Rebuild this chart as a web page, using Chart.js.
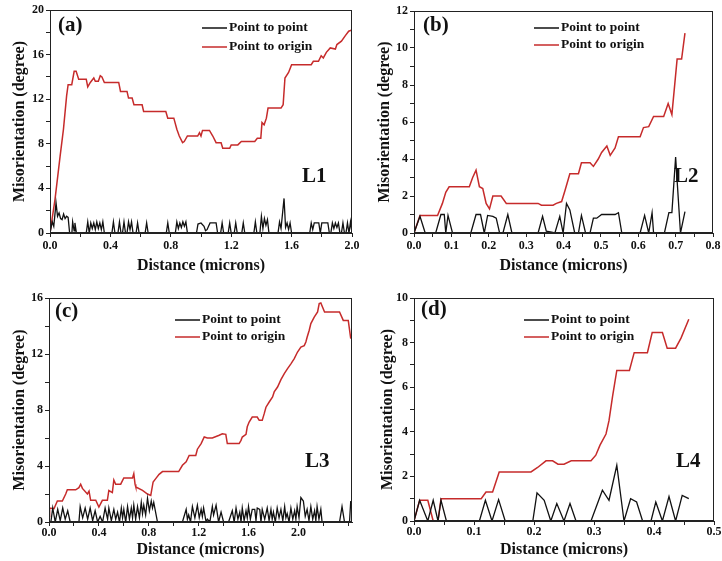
<!DOCTYPE html>
<html>
<head>
<meta charset="utf-8">
<script src="https://cdn.jsdelivr.net/npm/chart.js@4"></script>
<style>
  html, body { margin: 0; padding: 0; background: #fff; overflow: hidden; }
  body { width: 722px; height: 561px; position: relative; }
  canvas { position: absolute; }
</style>
</head>
<body>
<canvas id="chartA" width="361" height="280" style="left:0;top:0"></canvas>
<canvas id="chartB" width="361" height="280" style="left:361px;top:0"></canvas>
<canvas id="chartC" width="361" height="281" style="left:0;top:280px"></canvas>
<canvas id="chartD" width="361" height="281" style="left:361px;top:280px"></canvas>
<script>
// misorientation profiles, [distance (microns), degree]
const aPoint = [[0,0],[0.015,1.0],[0.025,0.6],[0.04,2.7],[0.05,1.5],[0.06,1.8],[0.07,1.3],[0.08,1.2],[0.09,1.7],[0.1,1.3],[0.11,1.5],[0.12,1.4],[0.13,0],[0.145,0],[0.15,1.0],[0.16,0.2],[0.165,0.9],[0.175,0],[0.24,0],[0.25,1.0],[0.26,0],[0.27,0.9],[0.28,0.4],[0.29,0.9],[0.3,0.3],[0.31,1.0],[0.32,0.4],[0.33,0.9],[0.34,0.3],[0.35,1.0],[0.36,0],[0.41,0],[0.42,1.0],[0.43,0],[0.45,0],[0.46,1.0],[0.47,0],[0.48,0],[0.49,1.0],[0.5,0],[0.51,0],[0.52,1.0],[0.53,0.3],[0.54,1.0],[0.55,0],[0.57,0],[0.58,0.9],[0.59,0],[0.63,0],[0.64,0.9],[0.65,0],[0.77,0],[0.78,0.9],[0.79,0],[0.83,0],[0.84,1.0],[0.85,0.4],[0.86,0.9],[0.87,0.5],[0.88,1.0],[0.89,0.6],[0.9,1.0],[0.91,0],[0.97,0],[0.98,0.8],[1.0,0.9],[1.02,0.6],[1.03,0.2],[1.04,0.3],[1.05,0.6],[1.06,0.9],[1.1,0.9],[1.11,0],[1.13,0],[1.14,0.9],[1.15,0],[1.18,0],[1.19,0.9],[1.2,0],[1.22,0],[1.23,0.9],[1.24,0],[1.27,0],[1.28,0.9],[1.29,0],[1.35,0],[1.36,1.0],[1.37,0],[1.39,0],[1.4,1.5],[1.41,0.4],[1.42,1.3],[1.43,0.7],[1.44,1.2],[1.45,0],[1.51,0],[1.52,1.0],[1.53,0.4],[1.55,3.1],[1.56,0.5],[1.57,0.9],[1.58,0.3],[1.59,0.9],[1.6,0],[1.72,0],[1.73,0.9],[1.74,0.3],[1.75,0.9],[1.78,0.9],[1.79,0],[1.8,0.9],[1.84,0.9],[1.85,0],[1.86,0],[1.87,0.9],[1.88,0.4],[1.89,0.9],[1.9,0.5],[1.91,0.9],[1.92,0],[1.93,0],[1.94,0.9],[1.95,0],[1.96,0],[1.97,0.9],[1.98,0],[1.99,1.0],[2.0,0]];
const aOrigin = [[0,0],[0.033,3.0],[0.067,6.9],[0.089,9.3],[0.11,12.3],[0.12,13.3],[0.144,13.3],[0.16,14.5],[0.173,14.5],[0.19,13.8],[0.24,13.8],[0.25,13.1],[0.267,13.5],[0.29,13.9],[0.3,13.6],[0.32,13.6],[0.333,14.1],[0.344,14.0],[0.36,13.5],[0.455,13.5],[0.467,12.7],[0.51,12.7],[0.52,12.1],[0.544,12.1],[0.556,11.5],[0.61,11.5],[0.62,10.9],[0.767,10.9],[0.78,10.3],[0.82,10.3],[0.84,9.3],[0.856,8.7],[0.878,8.1],[0.889,8.2],[0.91,8.7],[0.978,8.7],[0.99,9.0],[1.0,8.7],[1.01,9.2],[1.056,9.2],[1.078,8.7],[1.1,8.1],[1.133,8.1],[1.144,7.6],[1.19,7.6],[1.2,7.9],[1.244,7.9],[1.267,8.2],[1.356,8.2],[1.373,8.5],[1.396,8.5],[1.404,9.9],[1.418,9.7],[1.433,10.3],[1.444,11.2],[1.53,11.2],[1.544,11.5],[1.556,13.9],[1.58,14.4],[1.6,15.1],[1.73,15.1],[1.744,15.4],[1.778,15.4],[1.796,15.9],[1.81,15.7],[1.83,16.2],[1.856,16.6],[1.89,16.5],[1.9,16.9],[1.93,17.2],[1.956,17.7],[1.978,18.1],[2.0,18.2]];

const bPoint = [[0,0],[0.016,0.9],[0.03,0],[0.058,0],[0.072,1.0],[0.081,1.0],[0.085,0],[0.091,0.95],[0.103,0],[0.152,0],[0.166,1.0],[0.178,1.0],[0.188,0],[0.197,0.95],[0.211,0.9],[0.22,0.8],[0.229,0],[0.238,0],[0.251,1.0],[0.262,0],[0.332,0],[0.344,0.9],[0.354,0.1],[0.368,0.05],[0.377,0],[0.39,0.9],[0.399,0],[0.408,1.6],[0.417,1.25],[0.43,0],[0.44,0],[0.448,0.95],[0.459,0],[0.471,0],[0.48,0.8],[0.489,0.8],[0.502,1.0],[0.538,1.0],[0.547,1.1],[0.556,0],[0.605,0],[0.617,0.95],[0.628,0],[0.637,1.1],[0.641,0],[0.67,0],[0.682,1.1],[0.69,1.1],[0.7,4.1],[0.713,0],[0.725,1.15]];
const bOrigin = [[0,0],[0.016,0.94],[0.063,0.94],[0.076,1.6],[0.085,2.2],[0.094,2.5],[0.148,2.5],[0.157,3.0],[0.166,3.4],[0.175,2.5],[0.184,2.4],[0.193,1.6],[0.202,1.3],[0.211,2.0],[0.233,2.0],[0.247,1.6],[0.332,1.6],[0.341,1.5],[0.372,1.5],[0.381,1.6],[0.395,1.7],[0.404,2.3],[0.417,3.2],[0.44,3.2],[0.448,3.8],[0.471,3.8],[0.48,3.6],[0.493,4.0],[0.502,4.35],[0.516,4.7],[0.525,4.2],[0.538,4.6],[0.547,5.2],[0.605,5.2],[0.614,5.7],[0.628,5.75],[0.641,6.3],[0.668,6.3],[0.68,7.0],[0.69,6.4],[0.704,9.4],[0.716,9.4],[0.725,10.8]];

const cPoint = [[0,0],[0.015,0],[0.03,1.0],[0.05,0],[0.07,0.9],[0.09,0.1],[0.11,1.0],[0.13,0.2],[0.15,0.8],[0.17,0],[0.24,0],[0.25,1.1],[0.27,0.3],[0.29,1.0],[0.31,0.2],[0.33,1.0],[0.35,0.1],[0.37,0.8],[0.39,0],[0.41,0.4],[0.43,0],[0.45,1.0],[0.47,0.2],[0.48,1.0],[0.5,0.1],[0.52,0.9],[0.535,0.2],[0.55,0.7],[0.565,0],[0.58,1.0],[0.59,0.3],[0.6,0.9],[0.615,0],[0.63,1.1],[0.645,0.2],[0.66,1.0],[0.67,0.3],[0.68,1.2],[0.695,0.2],[0.71,1.1],[0.725,0.3],[0.74,1.4],[0.75,0.6],[0.76,1.2],[0.775,0.5],[0.79,1.7],[0.805,0.8],[0.82,1.5],[0.83,1.0],[0.84,1.4],[0.87,0],[1.07,0],[1.1,0.9],[1.11,0.2],[1.12,0.5],[1.135,0],[1.15,1.1],[1.17,0.3],[1.19,1.2],[1.205,0.3],[1.22,0.9],[1.23,0.4],[1.24,1.0],[1.26,0],[1.27,0.2],[1.29,0],[1.31,1.1],[1.32,0.5],[1.34,1.2],[1.36,0],[1.38,0.7],[1.4,0],[1.44,0],[1.47,0.8],[1.485,0],[1.5,1.0],[1.515,0.2],[1.53,0.7],[1.54,0],[1.55,1.0],[1.565,0.1],[1.58,0.8],[1.59,0.3],[1.6,1.1],[1.615,0.2],[1.63,0.9],[1.65,0.9],[1.66,0.1],[1.67,1.0],[1.69,0.9],[1.7,0],[1.71,0.9],[1.73,0.2],[1.75,1.0],[1.765,0.1],[1.78,0.9],[1.79,0.2],[1.8,0.7],[1.815,0],[1.83,1.0],[1.845,0.3],[1.86,0.9],[1.875,0.1],[1.89,1.1],[1.9,0.3],[1.91,0.6],[1.925,0],[1.94,1.0],[1.955,0.2],[1.97,0.8],[1.98,0.2],[1.99,1.1],[2.005,0.3],[2.02,1.75],[2.04,1.5],[2.055,0.4],[2.07,0.9],[2.085,0.1],[2.1,1.1],[2.115,0.2],[2.13,0.8],[2.14,0.1],[2.15,1.1],[2.165,0.2],[2.18,0.9],[2.19,0],[2.33,0],[2.35,1.1],[2.37,0],[2.41,0],[2.42,1.5]];
const cOrigin = [[0,0.4],[0.005,1.0],[0.04,0.95],[0.067,1.5],[0.107,1.5],[0.134,2.0],[0.147,2.3],[0.214,2.3],[0.24,2.45],[0.254,2.7],[0.268,2.4],[0.308,2.0],[0.321,2.2],[0.334,1.55],[0.375,1.55],[0.4,1.07],[0.428,1.55],[0.468,1.55],[0.48,2.25],[0.508,2.1],[0.52,3.0],[0.535,2.7],[0.575,2.7],[0.6,3.15],[0.67,3.15],[0.68,3.45],[0.69,2.7],[0.696,2.5],[0.75,2.26],[0.79,2.0],[0.816,1.9],[0.835,2.86],[0.856,3.1],[0.883,3.4],[0.91,3.6],[1.04,3.6],[1.07,4.05],[1.1,4.3],[1.124,4.75],[1.177,4.75],[1.19,5.2],[1.22,5.6],[1.245,6.07],[1.27,6.0],[1.31,6.0],[1.365,6.2],[1.39,6.3],[1.418,6.26],[1.43,5.6],[1.525,5.6],[1.54,5.83],[1.55,6.07],[1.58,6.26],[1.59,6.8],[1.605,7.14],[1.63,7.5],[1.67,7.5],[1.686,7.26],[1.71,7.26],[1.726,7.74],[1.74,8.2],[1.766,8.57],[1.793,8.93],[1.806,9.29],[1.833,9.64],[1.86,10.17],[1.887,10.6],[1.913,10.95],[1.94,11.3],[1.967,11.67],[1.993,12.14],[2.02,12.5],[2.047,12.6],[2.06,12.86],[2.07,13.2],[2.087,13.7],[2.1,14.17],[2.127,14.64],[2.154,15.0],[2.167,15.6],[2.18,15.64],[2.21,15.0],[2.33,15.0],[2.36,14.4],[2.4,14.4],[2.42,13.1]];

const dPoint = [[0,0],[0.0094,0.93],[0.023,0],[0.032,0.93],[0.04,0],[0.045,0.93],[0.054,0],[0.109,0],[0.119,0.93],[0.13,0],[0.141,0.96],[0.152,0],[0.198,0],[0.205,1.26],[0.217,0.93],[0.228,0],[0.238,0.78],[0.25,0],[0.26,0.78],[0.27,0],[0.295,0],[0.314,1.38],[0.325,0.93],[0.338,2.5],[0.35,0],[0.361,1.0],[0.371,0.85],[0.381,0],[0.395,0],[0.403,0.85],[0.414,0],[0.425,1.1],[0.436,0],[0.447,1.15],[0.458,1.0]];
const dOrigin = [[0,0],[0.0094,0.93],[0.023,0.93],[0.032,0],[0.04,0],[0.045,1.0],[0.112,1.0],[0.12,1.3],[0.131,1.3],[0.142,2.2],[0.195,2.2],[0.206,2.4],[0.22,2.7],[0.231,2.7],[0.24,2.55],[0.25,2.55],[0.262,2.7],[0.295,2.7],[0.303,2.95],[0.31,3.4],[0.32,3.9],[0.325,4.5],[0.331,5.6],[0.338,6.75],[0.359,6.75],[0.367,7.55],[0.389,7.55],[0.397,8.45],[0.414,8.45],[0.422,7.75],[0.436,7.75],[0.445,8.2],[0.458,9.05]];

const seriesNames = ['Point to point', 'Point to origin'];
const panelTags = ['(a)', '(b)', '(c)', '(d)'];
const lineTags = ['L1', 'L2', 'L3', 'L4'];

const FONT = "'Liberation Serif', 'Times New Roman', serif";
const INK = '#111';
const RED = '#c62b2b';

function isMultiple(v, step) {
    return Math.abs(Math.round(v / step) * step - v) < 1e-6;
}

const decorations = {
    id: 'decorations',
    afterDraw(chart) {
        const o = chart.options.plugins.decorations;
        const ctx = chart.ctx;
        const a = chart.chartArea;
        ctx.save();
        ctx.strokeStyle = '#222';
        ctx.lineWidth = 1;
        ctx.strokeRect(a.left + 0.5, a.top + 0.5, a.right - a.left - 1, a.bottom - a.top - 1);

        ctx.textBaseline = 'middle';
        ctx.textAlign = 'left';
        ctx.fillStyle = INK;
        ctx.font = 'bold 21px ' + FONT;
        ctx.fillText(o.tag, o.tagX, o.tagY);
        ctx.fillText(o.line, o.lineX, o.lineY);

        ctx.font = 'bold 13.5px ' + FONT;
        [INK, RED].forEach((c, i) => {
            const y = o.legY[i];
            ctx.strokeStyle = c;
            ctx.lineWidth = 1.5;
            ctx.beginPath();
            ctx.moveTo(o.legX, y);
            ctx.lineTo(o.legX + 25, y);
            ctx.stroke();
            ctx.fillText(seriesNames[i], o.legX + 27, y);
        });
        ctx.restore();
    }
};

function makePanel(id, p) {
    const tickFont = { family: FONT, size: 12, weight: 'bold' };
    return new Chart(document.getElementById(id), {
        type: 'line',
        data: {
            datasets: [
                { label: seriesNames[0], data: p.point, borderColor: INK, borderWidth: 1.3 },
                { label: seriesNames[1], data: p.origin, borderColor: RED, borderWidth: 1.5 }
            ]
        },
        options: {
            responsive: false,
            animation: false,
            elements: { point: { radius: 0 }, line: { tension: 0 } },
            layout: { padding: { top: p.top, right: p.right, left: 0, bottom: 0 } },
            plugins: {
                legend: { display: false },
                tooltip: { enabled: false },
                decorations: p.deco
            },
            scales: {
                x: {
                    type: 'linear', min: 0, max: p.xMax,
                    ticks: {
                        stepSize: p.xStep, includeBounds: false, autoSkip: false, maxRotation: 0,
                        padding: p.xPad, color: INK, font: tickFont,
                        callback: v => (isMultiple(v, p.xLabel) && v <= p.xLast + 1e-6) ? v.toFixed(1) : ''
                    },
                    grid: { drawOnChartArea: false, drawTicks: true, tickLength: 4, color: '#222' },
                    border: { color: '#222', width: 1 },
                    title: {
                        display: true, text: 'Distance (microns)', color: INK,
                        font: { family: FONT, size: 16, weight: 'bold' },
                        padding: { top: 0, bottom: p.xTitlePad }
                    },
                    afterFit(s) { s.height = p.xH; s.paddingLeft = 0; s.paddingRight = 0; }
                },
                y: {
                    min: 0, max: p.yMax,
                    ticks: {
                        stepSize: p.yStep, includeBounds: false, autoSkip: false,
                        padding: 2, color: INK, font: tickFont,
                        callback: v => isMultiple(v, p.yLabel) ? String(Math.round(v)) : ''
                    },
                    grid: { drawOnChartArea: false, drawTicks: true, tickLength: 4, color: '#222' },
                    border: { color: '#222', width: 1 },
                    title: {
                        display: true, text: 'Misorientation (degree)', color: INK,
                        font: { family: FONT, size: 16, weight: 'bold' },
                        padding: { top: p.yTitlePad, bottom: 0 }
                    },
                    afterFit(s) { s.width = p.yW; s.paddingTop = 0; s.paddingBottom = 0; }
                }
            }
        },
        plugins: [decorations]
    });
}

makePanel('chartA', {
    point: aPoint, origin: aOrigin,
    xMax: 2.0, xStep: 0.2, xLabel: 0.4, xLast: 2.0, yMax: 20, yStep: 2, yLabel: 4,
    top: 10, right: 9, yW: 50, xH: 47, xPad: 2, xTitlePad: 5, yTitlePad: 10,
    deco: { tag: panelTags[0], tagX: 58, tagY: 26, line: lineTags[0], lineX: 302, lineY: 177, legX: 202, legY: [28, 47] }
});
makePanel('chartB', {
    point: bPoint, origin: bOrigin,
    xMax: 0.8, xStep: 0.05, xLabel: 0.1, xLast: 0.8, yMax: 12, yStep: 1, yLabel: 2,
    top: 11, right: 9, yW: 53, xH: 47, xPad: 2, xTitlePad: 5, yTitlePad: 14,
    deco: { tag: panelTags[1], tagX: 62, tagY: 26, line: lineTags[1], lineX: 313, lineY: 177, legX: 173, legY: [28, 45] }
});
makePanel('chartC', {
    point: cPoint, origin: cOrigin,
    xMax: 2.43, xStep: 0.2, xLabel: 0.4, xLast: 2.0, yMax: 16, yStep: 2, yLabel: 4,
    top: 18, right: 9, yW: 49, xH: 39, xPad: 0, xTitlePad: 2, yTitlePad: 10,
    deco: { tag: panelTags[2], tagX: 55, tagY: 32, line: lineTags[2], lineX: 305, lineY: 182, legX: 175, legY: [40, 57] }
});
makePanel('chartD', {
    point: dPoint, origin: dOrigin,
    xMax: 0.5, xStep: 0.05, xLabel: 0.1, xLast: 0.5, yMax: 10, yStep: 1, yLabel: 2,
    top: 18, right: 8, yW: 53, xH: 40, xPad: 0, xTitlePad: 2, yTitlePad: 17,
    deco: { tag: panelTags[3], tagX: 60, tagY: 30, line: lineTags[3], lineX: 315, lineY: 182, legX: 163, legY: [40, 57] }
});
</script>
</body>
</html>
